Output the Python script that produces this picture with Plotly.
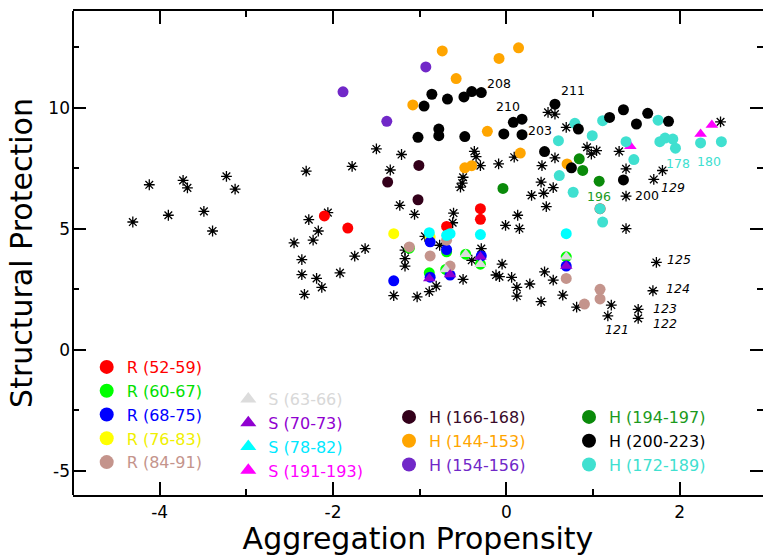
import plotly.graph_objects as go

FONT = "DejaVu Sans"

# ---------------- data ----------------
# Other residues (asterisks)
ast_x = [-4.31, -4.12, -3.90, -3.73, -3.68, -3.49, -3.39, -3.23, -3.13,
         -2.31, -1.78, -1.50, -1.34, -1.21, -2.06, -2.28, -2.17, -2.23, -2.45, -1.63, -1.75,
         -2.36, -2.36, -2.19, -2.13, -2.33, -1.92, -1.23, -1.06, -1.30, -1.03, -1.17, -1.17, -1.17,
         -0.94, -0.77, -0.61, -0.62, -0.29, -0.40, -0.81, -0.89, -0.50, -0.05, -0.12, -0.08, 0.06,
         0.12, 0.12, 0.27, 0.40, 0.44, 0.54, 0.65, 0.81, -0.01, 0.15, 0.13, 0.29, 0.46,
         -0.37, -0.35, -0.30, -0.09, 0.09, -0.50, -0.51, -0.53, 0.41, 0.40, 0.43, 0.54, 0.48, 0.56,
         0.69, 0.56, 0.93, 0.98, 1.04, 1.30, 1.38, 1.38, 1.70, 1.80, 2.47, 1.38,
         1.73, 1.69, 1.52, 1.52, 1.21, 1.17]
ast_y = [5.28, 6.82, 5.56, 7.00, 6.69, 5.72, 4.91, 7.17, 6.64,
         7.38, 7.58, 8.30, 7.43, 8.07, 5.67, 5.38, 4.91, 4.53, 4.42, 4.18, 3.87,
         3.73, 3.11, 2.95, 2.58, 2.29, 3.18, 5.97, 5.60, 2.24, 2.19, 4.12, 3.77, 3.46,
         4.69, 4.32, 5.65, 5.25, 4.18, 3.70, 2.63, 2.40, 2.91, 3.54, 3.09, 3.02, 2.99,
         2.58, 2.22, 2.72, 1.99, 3.22, 2.88, 2.26, 1.76, 5.14, 5.01, 5.56, 6.38, 5.92,
         8.20, 7.98, 7.61, 7.68, 7.96, 7.13, 6.89, 6.72, 7.61, 6.93, 6.47, 6.70, 9.81, 9.74,
         9.19, 7.93, 8.37, 8.09, 8.23, 8.20, 7.48, 6.35, 7.04, 7.41, 9.42, 5.01,
         3.61, 2.44, 1.67, 1.30, 1.85, 1.40]

# R segments (circles)
r52_x = [-2.10, -1.83, -0.69, -0.30, -0.30, 1.08]
r52_y = [5.53, 5.03, 5.10, 5.83, 5.39, 5.83]
r60_x = [-1.12, -0.69, -0.47, -0.30, -0.70, -0.89, 0.69]
r60_y = [4.20, 4.05, 3.95, 3.54, 3.32, 3.18, 3.84]
r68_x = [-1.30, -0.88, -0.69, -0.29, -0.65, -0.88, 0.69]
r68_y = [2.85, 4.46, 4.14, 3.88, 3.09, 3.00, 3.46]
r76_x = [-1.30, -0.88]
r76_y = [4.80, 4.66]
r84_x = [-1.12, -0.69, -0.88, -0.65, 0.69, 0.90, 1.08, 1.08]
r84_y = [4.25, 4.53, 3.88, 3.46, 2.95, 1.89, 2.50, 2.10]

# S segments
s63_x = [-0.47, -0.30, -0.70, 0.69]
s63_y = [3.95, 3.54, 3.32, 3.84]
s70_x = [-0.30, -0.65, -0.89, 0.69]
s70_y = [3.84, 3.11, 2.95, 3.46]
s78_x = [-0.89, -0.65, -0.69, -0.30, 0.69]
s78_y = [4.84, 4.80, 4.73, 4.76, 4.80]
s191_x = [2.24, 2.37, 1.43]
s191_y = [8.92, 9.29, 8.41]

# H segments
h166_x = [-1.37, -1.01, -1.02]
h166_y = [6.93, 7.62, 6.20]
h144_x = [-0.74, -0.085, 0.14, -0.58, -1.08, -0.22, 0.16, -0.48, -0.40, 0.70]
h144_y = [12.35, 12.04, 12.48, 11.21, 10.12, 9.03, 8.13, 7.52, 7.61, 7.68]
h154_x = [-1.885, -0.93, -1.38]
h154_y = [10.66, 11.69, 9.44]
h194_x = [-0.04, 0.84, 0.88, 1.07]
h194_y = [6.67, 7.89, 7.41, 6.97]
h200_x = [-0.86, -0.95, -0.68, -0.49, -0.40, -0.29, -1.02, -0.78, -0.78, -0.48, -0.03, 0.08,
          0.18, 0.18, 0.44, 0.56, 0.83, 1.19, 1.35, 1.50, 1.63, 1.87, 1.35, 0.75]
h200_y = [10.56, 10.07, 10.36, 10.45, 10.67, 10.63, 8.78, 9.12, 8.85, 8.81, 8.92, 9.40,
          9.53, 8.89, 8.19, 10.15, 9.12, 9.60, 9.92, 9.33, 9.77, 9.44, 7.02, 7.52]
h172_x = [0.79, 0.60, 0.99, 1.11, 1.75, 1.77, 1.83, 1.92, 1.95, 2.24, 2.48, 1.38, 1.47,
          0.61, 0.77, 1.08, 1.11]
h172_y = [9.36, 8.64, 8.85, 9.47, 9.49, 8.60, 8.75, 8.71, 8.33, 8.55, 8.60, 8.60, 7.86,
          7.20, 6.51, 5.83, 5.28]

# residue number labels
lab_text = ["208", "210", "211", "203", "200", "196", "178", "180",
            "<i>129</i>", "<i>125</i>", "<i>124</i>", "<i>123</i>", "<i>122</i>", "<i>121</i>"]
lab_x = [-0.08, 0.02, 0.77, 0.39, 1.62, 1.07, 1.98, 2.34, 1.92, 1.99, 1.98, 1.83, 1.83, 1.27]
lab_y = [11.02, 10.04, 10.70, 9.05, 6.38, 6.35, 7.68, 7.78, 6.72, 3.73, 2.54, 1.72, 1.10, 0.82]
lab_color = ["black", "black", "black", "black", "black", "#1c9a1c", "#40e0d0", "#40e0d0",
             "black", "black", "black", "black", "black", "black"]

# tick labels
xtick_vals = [-4, -2, 0, 2]
xtick_text = ["-4", "-2", "0", "2"]
ytick_vals = [-5, 0, 5, 10]
ytick_text = ["-5", "0", "5", "10"]

# ---------------- figure ----------------
fig = go.Figure()

fig.add_trace(go.Scatter(x=ast_x, y=ast_y, mode="markers", showlegend=False, hoverinfo="x+y",
                         marker=dict(symbol="asterisk-open", size=9, color="black",
                                     line=dict(width=1.3, color="black"))))
fig.add_trace(go.Scatter(x=ast_x, y=ast_y, mode="markers", showlegend=False, hoverinfo="skip",
                         marker=dict(symbol="circle", size=3.5, color="black")))

# series: key, x, y, color, symbol (plot), legend symbol, legend, rank, label, text colour
series = [
    ("r52", r52_x, r52_y, "#ff0000", "circle", "circle", "legend", 1, "R (52-59)", "#ff0000"),
    ("r60", r60_x, r60_y, "#00ff00", "circle", "circle", "legend", 2, "R (60-67)", "#00e000"),
    ("r76", r76_x, r76_y, "#ffff00", "circle", "circle", "legend", 4, "R (76-83)", "#f0f000"),
    ("r68", r68_x, r68_y, "#0000ff", "circle", "circle", "legend", 3, "R (68-75)", "#0000ff"),
    ("r84", r84_x, r84_y, "#c4948c", "circle", "circle", "legend", 5, "R (84-91)", "#c4948c"),
    ("s78", s78_x, s78_y, "#00ffff", "circle", "triangle-up", "legend2", 3, "S (78-82)", "#00e8ff"),
    ("s63", s63_x, s63_y, "#dcdcdc", "triangle-up", "triangle-up", "legend2", 1, "S (63-66)", "#d8d8d8"),
    ("s70", s70_x, s70_y, "#9000d0", "triangle-up", "triangle-up", "legend2", 2, "S (70-73)", "#9000d0"),
    ("s191", s191_x, s191_y, "#ff00ff", "triangle-up", "triangle-up", "legend2", 4, "S (191-193)", "#ff00ff"),
    ("h172", h172_x, h172_y, "#40e0d0", "circle", "circle", "legend4", 3, "H (172-189)", "#40e0d0"),
    ("h166", h166_x, h166_y, "#33001a", "circle", "circle", "legend3", 1, "H (166-168)", "#3a0a2a"),
    ("h154", h154_x, h154_y, "#7128c8", "circle", "circle", "legend3", 3, "H (154-156)", "#7128c8"),
    ("h194", h194_x, h194_y, "#0a8a0a", "circle", "circle", "legend4", 1, "H (194-197)", "#1c9a1c"),
    ("h144", h144_x, h144_y, "#ffa500", "circle", "circle", "legend3", 2, "H (144-153)", "#ffa500"),
    ("h200", h200_x, h200_y, "#000000", "circle", "circle", "legend4", 2, "H (200-223)", "#000000"),
]

for key, xs, ys, col, sym, lsym, leg, rank, label, tcol in series:
    fig.add_trace(go.Scatter(x=xs, y=ys, mode="markers", name=label, legendgroup=key,
                             showlegend=False,
                             marker=dict(symbol=sym, size=11, color=col, line=dict(width=0))))
    fig.add_trace(go.Scatter(x=[None], y=[None], mode="markers", legendgroup=key,
                             name='<span style="color:%s">%s</span>' % (tcol, label),
                             legend=leg, legendrank=rank, showlegend=True,
                             marker=dict(symbol=lsym, size=14, color=col, line=dict(width=0))))

for t, x, y, c in zip(lab_text, lab_x, lab_y, lab_color):
    fig.add_annotation(x=x, y=y, xref="x", yref="y", text=t, showarrow=False,
                       font=dict(family=FONT, size=12.5, color=c),
                       xanchor="center", yanchor="middle")

L, T, W, H, B = 73, 11, 763, 556, 61
PW, PH = W - L, H - T - B


def px(v):
    return (v - L) / PW


def py(v):
    return (H - B - v) / PH


leg_common = dict(xanchor="left", yanchor="top", bgcolor="rgba(0,0,0,0)", borderwidth=0,
                  font=dict(family=FONT, size=16, color="black"),
                  itemsizing="trace", traceorder="normal", tracegroupgap=0)

# left spine (the right one lies outside the picture, only its ticks show)
fig.add_shape(type="line", xref="paper", yref="paper", x0=0, x1=0, y0=0, y1=1,
              line=dict(color="black", width=2))

fig.update_layout(
    width=W, height=H,
    margin=dict(l=L, r=0, t=T, b=B, pad=0),
    paper_bgcolor="white", plot_bgcolor="white",
    font=dict(family=FONT, color="black"),
    legend=dict(x=px(86.7), y=py(350), **leg_common),
    legend2=dict(x=px(228.3), y=py(382), **leg_common),
    legend3=dict(x=px(389), y=py(400), **leg_common),
    legend4=dict(x=px(569), y=py(400), **leg_common),
    xaxis=dict(range=[-5, 2.96], showline=True, linewidth=2, linecolor="black",
               mirror="allticks", ticks="inside", ticklen=13, tickwidth=1.5, tickcolor="black",
               tickmode="array", tickvals=xtick_vals, ticktext=xtick_text,
               showgrid=False, zeroline=False,
               tickfont=dict(family=FONT, size=17), ticklabelstandoff=1,
               minor=dict(dtick=1, tick0=0, ticks="inside", ticklen=6, tickwidth=1.5,
                          tickcolor="black", showgrid=False),
               title=dict(text="Aggregation Propensity", font=dict(family=FONT, size=30),
                          standoff=4)),
    yaxis=dict(range=[-6, 14], showline=False,
               mirror="allticks", ticks="inside", ticklen=13, tickwidth=1.5, tickcolor="black",
               tickmode="array", tickvals=ytick_vals, ticktext=ytick_text,
               showgrid=False, zeroline=False,
               tickfont=dict(family=FONT, size=17), ticklabelstandoff=2,
               minor=dict(dtick=2.5, tick0=0, ticks="inside", ticklen=6, tickwidth=1.5,
                          tickcolor="black", showgrid=False),
               title=dict(text="Structural Protection", font=dict(family=FONT, size=30),
                          standoff=6)),
)

fig.write_html("out.html")
